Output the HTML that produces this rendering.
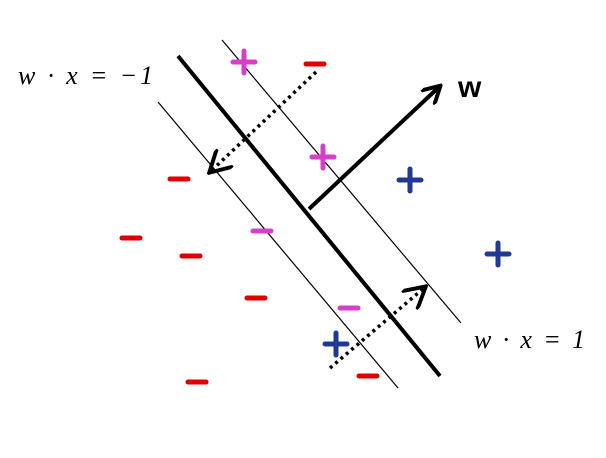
<!DOCTYPE html>
<html><head><meta charset="utf-8"><style>
html,body{margin:0;padding:0;background:#fff;width:606px;height:458px;overflow:hidden}
svg{display:block}
text{font-family:"Liberation Serif",serif;font-style:italic;font-size:26px;fill:#000}
</style></head><body>
<svg width="606" height="458" viewBox="0 0 606 458">
<defs>
<marker id="ah" viewBox="0 0 10 10" refX="8" refY="5" markerWidth="5" markerHeight="5" orient="auto-start-reverse" markerUnits="strokeWidth">
<path d="M0,0 L9,5 L0,10" fill="none" stroke="#000" stroke-width="2"/></marker>
<marker id="ah2" viewBox="0 0 10 10" refX="8" refY="5" markerWidth="7" markerHeight="7" orient="auto" markerUnits="strokeWidth">
<path d="M0,0 L9,5 L0,10" fill="none" stroke="#000" stroke-width="1.6"/></marker>
</defs>
<line x1="178" y1="56" x2="440" y2="376" stroke="#000" stroke-width="4"/>
<line x1="222" y1="40" x2="461" y2="323" stroke="#000" stroke-width="1.2"/>
<line x1="158" y1="102" x2="398" y2="388" stroke="#000" stroke-width="1.2"/>
<line x1="309" y1="209" x2="439" y2="87" stroke="#000" stroke-width="4" marker-end="url(#ah)"/>
<line x1="316" y1="72" x2="211" y2="171" stroke="#000" stroke-width="3.5" stroke-dasharray="3,4" marker-end="url(#ah2)"/>
<line x1="330" y1="368" x2="424" y2="288" stroke="#000" stroke-width="3.5" stroke-dasharray="3,4" marker-end="url(#ah2)"/>
<text x="458" y="97" style="font-family:'Liberation Sans',sans-serif;font-style:normal;font-weight:bold;font-size:30px">w</text>
<text x="18" y="84" textLength="135" lengthAdjust="spacing">w · x = −1</text>
<text x="474" y="348" textLength="111" lengthAdjust="spacing">w · x = 1</text>
<g id="pts"></g>
</svg>
<script>
const plusX=[244,323,410,498,336];
const plusY=[62,157,180,254,344];
const plusColor=["#d63fc8","#d63fc8","#1f3a93","#1f3a93","#1f3a93"];
const minusX=[315,179,131,191,256,197,368,262,349];
const minusY=[64,179,238,256,298,382,376,231,308];
const minusColor=["#e00000","#e00000","#e00000","#e00000","#e00000","#e00000","#e00000","#d63fc8","#d63fc8"];
const g=document.getElementById('pts');
const NS='http://www.w3.org/2000/svg';
function seg(x1,y1,x2,y2,c){const l=document.createElementNS(NS,'line');l.setAttribute('x1',x1);l.setAttribute('y1',y1);l.setAttribute('x2',x2);l.setAttribute('y2',y2);l.setAttribute('stroke',c);l.setAttribute('stroke-width',5);l.setAttribute('stroke-linecap','round');return l;}
plusX.forEach((x,i)=>{const y=plusY[i];const grp=document.createElementNS(NS,'g');


grp.appendChild(seg(x-11,y,x+11,y,plusColor[i]));grp.appendChild(seg(x,y-11,x,y+11,plusColor[i]));g.appendChild(grp);});
minusX.forEach((x,i)=>{const y=minusY[i];const l=seg(x-9,y,x+9,y,minusColor[i]);


g.appendChild(l);});
</script>
</body></html>
